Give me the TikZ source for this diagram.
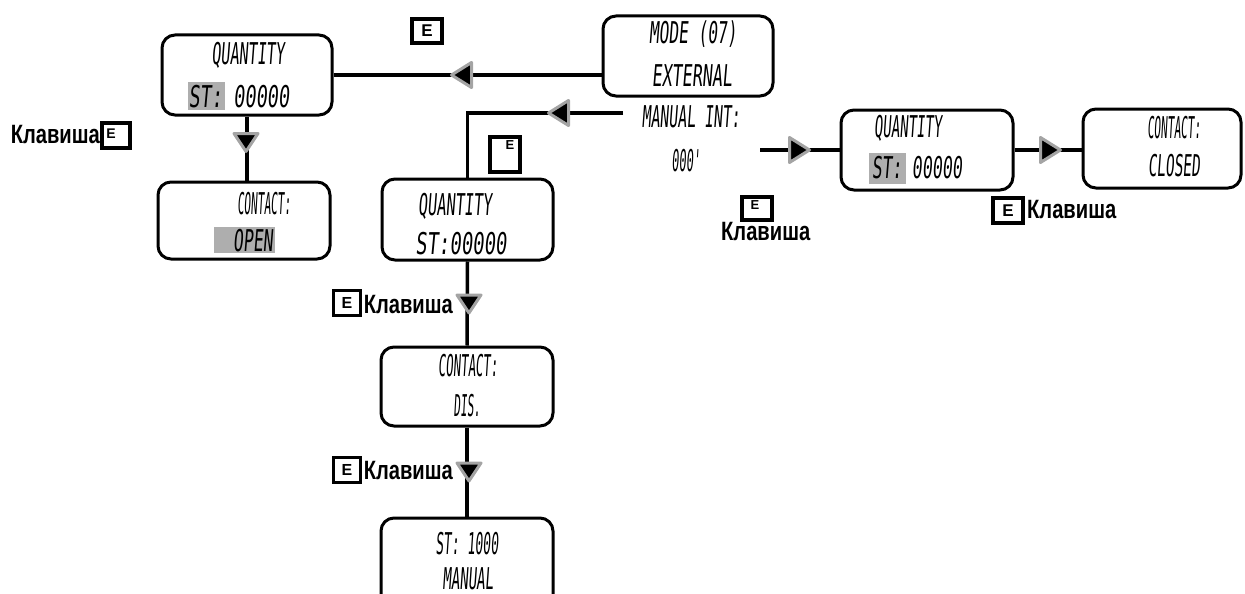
\documentclass[tikz,border=0pt]{standalone}
\usepackage{fontspec}
\newfontfamily\lcdfont[FakeSlant=0.15]{DejaVu Sans Mono}
\newfontfamily\labfont[FakeStretch=0.76]{Liberation Sans}
\newfontfamily\efont{Liberation Sans}
\newcommand\lcd[2]{\scalebox{#1}[1]{\lcdfont\fontsize{30}{32}\selectfont #2}}
\definecolor{trigray}{HTML}{A4A4A4}
\definecolor{hlgray}{HTML}{AEAEAE}
\tikzset{
  lcdbox/.style={draw=black, line width=3pt, rounded corners=13pt, inner sep=0pt},
  lcdtxt/.style={inner sep=0pt, text height=22pt, text depth=0pt},
  conn/.style={draw=black, line width=3.5pt},
  tri/.style={fill=black, draw=trigray, line width=3pt, line join=round},
  ebox/.style={draw=black, line width=3.5pt, inner sep=0pt},
  etxt/.style={inner sep=0pt, font=\efont\bfseries},
  klav/.style={inner sep=0pt, font=\labfont\bfseries\fontsize{26.5}{28}\selectfont},
  hl/.style={fill=hlgray, draw=none}
}
\newcommand\arrL[2]{\filldraw[tri] (#1,#2) ++(-10,0) -- ++(20,-12.5) -- ++(0,25) -- cycle;}
\newcommand\arrR[2]{\filldraw[tri] (#1,#2) ++(10,0) -- ++(-20,-12.5) -- ++(0,25) -- cycle;}
\newcommand\arrD[2]{\filldraw[tri] (#1,#2) ++(0,9) -- ++(-12,-18) -- ++(24,0) -- cycle;}
\begin{document}
\begin{tikzpicture}[x=1pt,y=-1pt]
\useasboundingbox (0,0) rectangle (1245,594);
\clip (0,0) rectangle (1245,594);
% boxes
\node[lcdbox, minimum width=170pt, minimum height=80pt] (b1) at (247,75) {};
\node[lcdbox, minimum width=172pt, minimum height=77pt] (b2) at (244,220.5) {};
\node[lcdbox, minimum width=170pt, minimum height=80pt] (mode) at (688,56) {};
\node[lcdbox, minimum width=171pt, minimum height=81pt] (b3) at (467.5,219.5) {};
\node[lcdbox, minimum width=172pt, minimum height=79pt] (b4) at (467,386.5) {};
\node[lcdbox, minimum width=172pt, minimum height=94pt] (b5) at (467,565) {};
\node[lcdbox, minimum width=172pt, minimum height=80pt] (b6) at (927,150) {};
\node[lcdbox, minimum width=158pt, minimum height=79pt] (b7) at (1162,148.5) {};
% connectors
\coordinate (mi) at (623,113);
\coordinate (rs) at (760,150);
\draw[conn] (b1.east) -- (b1.east -| mode.west);
\draw[conn] (mi) -| (b3.north);
\draw[conn] (b1.south) -- (b1.south |- b2.north);
\draw[conn] (b3.south) -- (b4.north);
\draw[conn] (b4.south) -- (b5.north);
\draw[conn] (rs) -- (b6.west);
\draw[conn] (b6.east) -- (b6.east -| b7.west);
% arrowheads
\arrL{461.5}{75}
\arrL{558.5}{113}
\arrD{246}{142.5}
\arrD{469}{304}
\arrD{469}{472}
\arrR{799.5}{150}
\arrR{1050.5}{150}
% highlights
\fill[hl] (188,82) rectangle (225,110);
\fill[hl] (214,227) rectangle (275,253);
\fill[hl] (869,153) rectangle (906,184);
% texts
\node[lcdtxt] (t1a) at (248,53) {\lcd{0.505}{QUANTITY}};
\node[lcdtxt] (t1b) at (239,96) {\lcd{0.62}{ST: 00000}};
\node[lcdtxt] (t2a) at (264,203) {\lcd{0.37}{CONTACT:}};
\node[lcdtxt] (t2b) at (253,240) {\lcd{0.55}{OPEN}};
\node[lcdtxt] (tma) at (693,33) {\lcd{0.54}{MODE (07)}};
\node[lcdtxt] (tmb) at (692,75) {\lcd{0.555}{EXTERNAL}};
\node[lcdtxt] (tmi) at (691,116) {\lcd{0.495}{MANUAL INT:}};
\node[lcdtxt] (tmv) at (686,160) {\lcd{0.4}{000'}};
\node[lcdtxt] (t3a) at (455,204) {\lcd{0.51}{QUANTITY}};
\node[lcdtxt] (t3b) at (461,243) {\lcd{0.63}{ST:00000}};
\node[lcdtxt] (t4a) at (468,365) {\lcd{0.415}{CONTACT:}};
\node[lcdtxt] (t4b) at (467,405) {\lcd{0.37}{DIS.}};
\node[lcdtxt] (t5a) at (467,543) {\lcd{0.435}{ST: 1000}};
\node[lcdtxt] (t5b) at (468,578) {\lcd{0.47}{MANUAL}};
\node[lcdtxt] (t6a) at (908,126) {\lcd{0.47}{QUANTITY}};
\node[lcdtxt] (t6b) at (917,167) {\lcd{0.555}{ST: 00000}};
\node[lcdtxt] (t7a) at (1174,127) {\lcd{0.37}{CONTACT:}};
\node[lcdtxt] (t7b) at (1174,165) {\lcd{0.48}{CLOSED}};
% key boxes
\node[ebox, minimum width=30pt, minimum height=24pt] (e1) at (427,31) {};
\node[etxt, font=\efont\bfseries\fontsize{17}{17}\selectfont] (e1t) at (427,31) {E};
\node[ebox, minimum width=28pt, minimum height=25pt] (e2) at (116,135.5) {};
\node[etxt, font=\efont\bfseries\fontsize{14}{14}\selectfont] (e2t) at (111,134) {E};
\node[ebox, minimum width=30pt, minimum height=35pt] (e3) at (505,154.5) {};
\node[etxt, font=\efont\bfseries\fontsize{13}{13}\selectfont] (e3t) at (510,145) {E};
\node[ebox, minimum width=27pt, minimum height=25pt] (e4) at (347,303) {};
\node[etxt, font=\efont\bfseries\fontsize{16}{16}\selectfont] (e4t) at (347,303) {E};
\node[ebox, minimum width=27pt, minimum height=25pt] (e5) at (347,470) {};
\node[etxt, font=\efont\bfseries\fontsize{16}{16}\selectfont] (e5t) at (347,470) {E};
\node[ebox, minimum width=30pt, minimum height=23pt] (e6) at (757,208.5) {};
\node[etxt, font=\efont\bfseries\fontsize{13}{13}\selectfont] (e6t) at (755,205) {E};
\node[ebox, minimum width=30pt, minimum height=25pt] (e7) at (1008,210.5) {};
\node[etxt, font=\efont\bfseries\fontsize{17}{17}\selectfont] (e7t) at (1008,210.5) {E};
% labels
\node[klav, anchor=base east] (k1) at (100,143) {Клавиша};
\node[klav, anchor=base east] (k2) at (453,313) {Клавиша};
\node[klav, anchor=base east] (k3) at (453,479) {Клавиша};
\node[klav, anchor=base west] (k4) at (721,240) {Клавиша};
\node[klav, anchor=base west] (k5) at (1027,218) {Клавиша};
\end{tikzpicture}
\end{document}
